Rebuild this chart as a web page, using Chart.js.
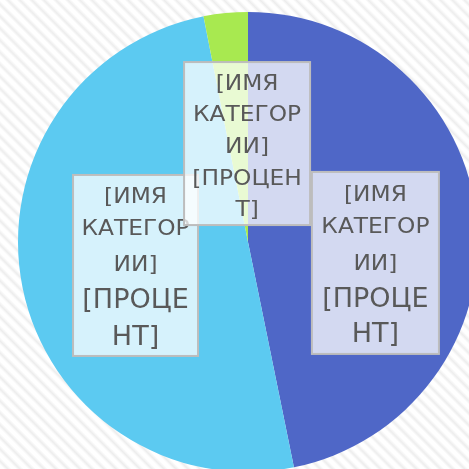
<!DOCTYPE html>
<html>
<head>
<meta charset="utf-8">
<script src="https://cdn.jsdelivr.net/npm/chart.js@4"></script>
<style>
  html, body { margin: 0; padding: 0; }
  body {
    width: 469px; height: 469px; overflow: hidden;
    background: repeating-linear-gradient(45deg, #ffffff 0px, #ffffff 3px, #ededed 5.5px, #ffffff 8.5px);
  }
  #wrap { position: relative; width: 469px; height: 469px; overflow: hidden; }
  #myChart { position: absolute; left: 0; top: 0; }
</style>
</head>
<body>
<div id="wrap"><canvas id="myChart" width="496" height="484"></canvas></div>
<script>
// donnees
var categories = ["[ИМЯ КАТЕГОРИИ] 1", "[ИМЯ КАТЕГОРИИ] 2", "[ИМЯ КАТЕГОРИИ] 3"];
var values = [46.8, 50.1, 3.1];
var colors = ["#4f67c7", "#5ccaf1", "#a8e950"];

// texte des etiquettes (tel quel, coupe en lignes)
var labelLines = [
  ["[ИМЯ", "КАТЕГОР", "ИИ]", "[ПРОЦЕ", "НТ]"],
  ["[ИМЯ", "КАТЕГОР", "ИИ]", "[ПРОЦЕ", "НТ]"],
  ["[ИМЯ", "КАТЕГОР", "ИИ]", "[ПРОЦЕН", "Т]"]
];
var labelSizes = [
  [22, 22, 22, 27, 27],
  [22, 22, 22, 27, 27],
  [22, 22, 22, 22, 22]
];

// position des boites (fraction du rayon) et taille en px
var boxes = [
  { dx: 0.554, dy: 0.091, w: 127, h: 182, lines: [-70, -38, -1, 34, 69] },
  { dx: -0.489, dy: 0.102, w: 125, h: 181, lines: [-70.5, -38.5, -2.5, 32.5, 69.5] },
  { dx: -0.004, dy: -0.428, w: 126, h: 163, lines: [-61.5, -30.5, 1.5, 33.5, 64.5] }
];

var boxLabels = {
  id: 'boxLabels',
  afterDatasetsDraw: function(chart) {
    var c = chart.ctx;
    var meta = chart.getDatasetMeta(0);
    meta.data.forEach(function(arc, i) {
      var b = boxes[i];
      var r = arc.outerRadius;
      var cx = arc.x + b.dx * r;
      var cy = arc.y + b.dy * r;
      c.save();
      c.fillStyle = 'rgba(255,255,255,0.75)';
      c.fillRect(cx - b.w / 2, cy - b.h / 2, b.w, b.h);
      c.strokeStyle = '#bdbdbd';
      c.lineWidth = 2;
      c.strokeRect(cx - b.w / 2, cy - b.h / 2, b.w, b.h);
      c.fillStyle = '#595959';
      c.textAlign = 'center';
      c.textBaseline = 'alphabetic';
      labelLines[i].forEach(function(txt, k) {
        var s = labelSizes[i][k];
        var sx = s < 25 ? 1.06 : 1;
        c.font = s + 'px "DejaVu Sans"';
        c.save();
        c.translate(cx, cy + b.lines[k] + s * 0.365);
        c.scale(sx, 1);
        c.fillText(txt, 0, 0);
        c.restore();
      });
      c.restore();
    });
  }
};

var ctx = document.getElementById("myChart").getContext("2d");

var myPie = new Chart(ctx, {
  type: 'pie',
  data: {
    labels: categories,
    datasets: [{
      data: values,
      backgroundColor: colors,
      borderWidth: 0
    }]
  },
  options: {
    responsive: false,
    animation: false,
    devicePixelRatio: 1,
    radius: 230,
    layout: { padding: 0 },
    plugins: {
      legend: { display: false },
      tooltip: { enabled: false }
    }
  },
  plugins: [boxLabels]
});
</script>
</body>
</html>
